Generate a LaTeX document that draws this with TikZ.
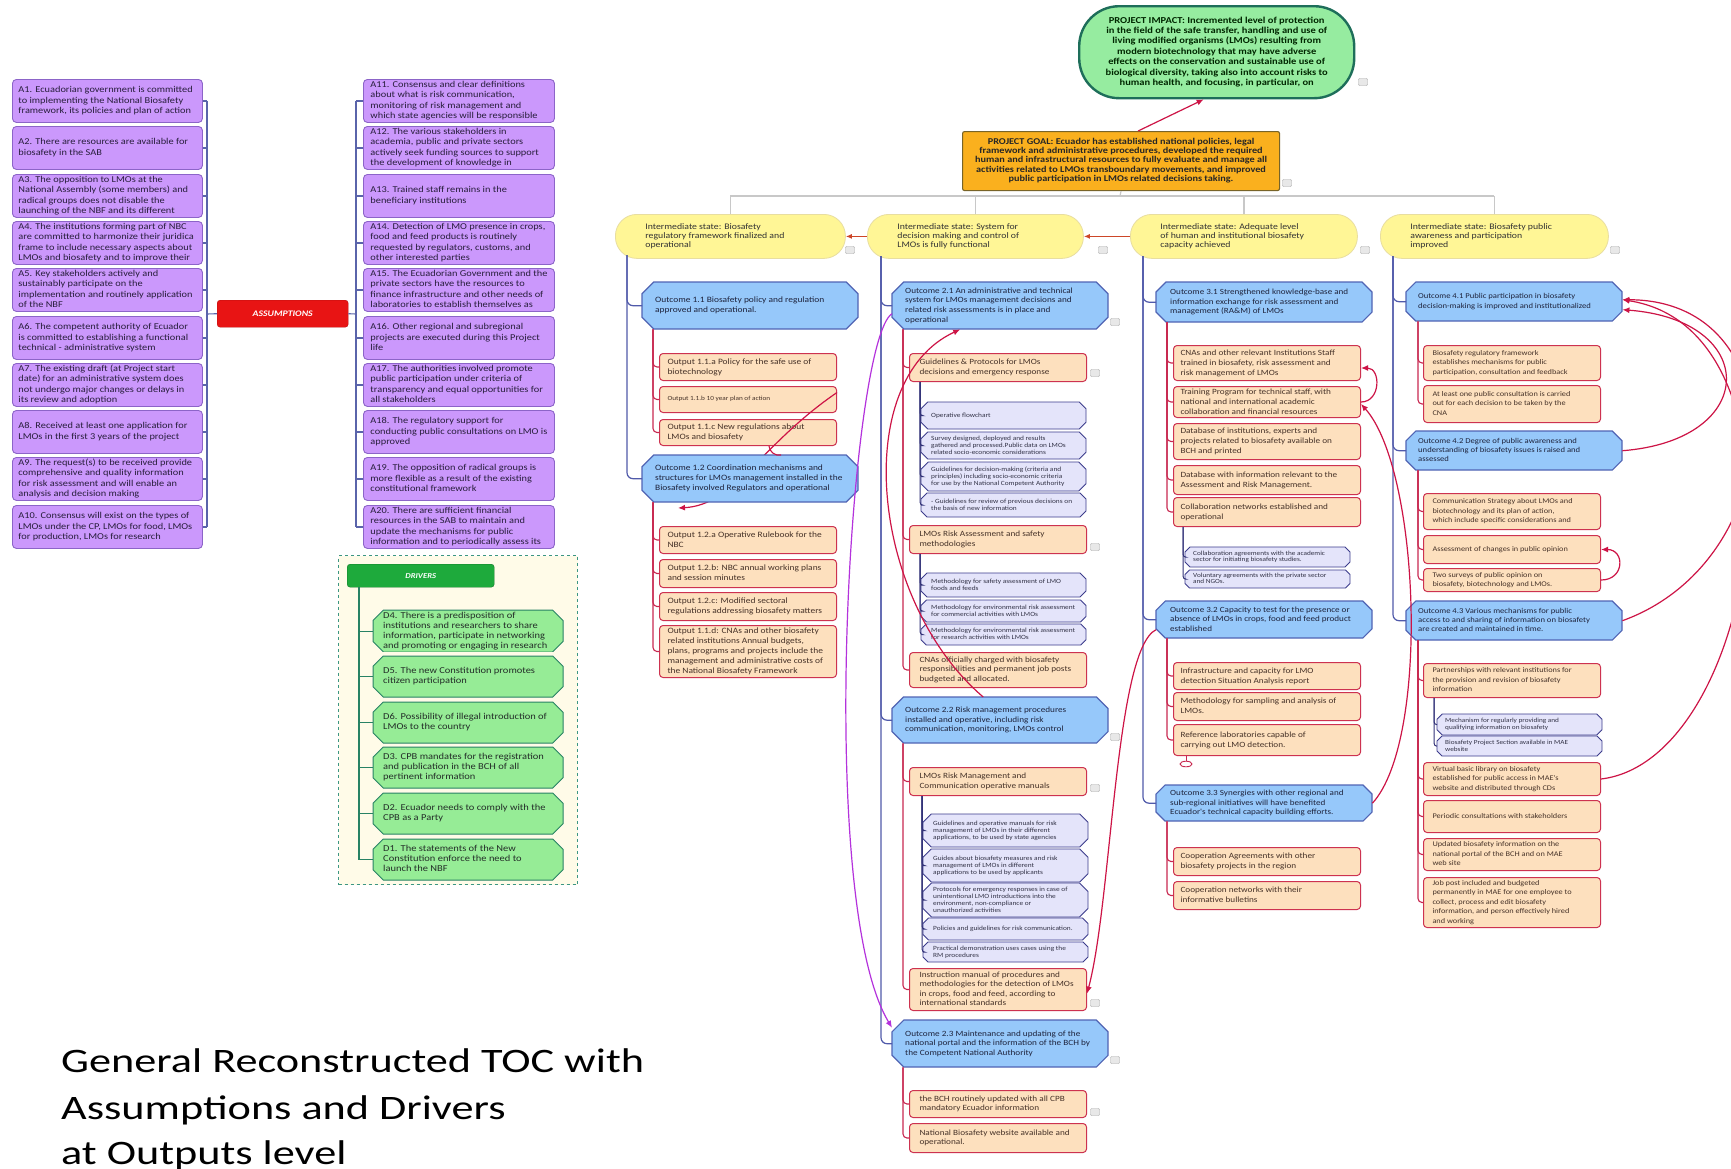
\documentclass[tikz,border=0pt]{standalone}
\usepackage{fontspec}
\setmainfont{Carlito}
\newfontfamily\df{Carlito}[FakeStretch=1.15]
\newfontfamily\ttl{Carlito}[FakeStretch=1.29]
\usetikzlibrary{arrows.meta}

\definecolor{afill}{RGB}{203,152,252}
\definecolor{aedge}{RGB}{140,100,200}
\definecolor{atext}{RGB}{40,30,60}
\definecolor{abusc}{RGB}{90,100,170}
\definecolor{asmred}{RGB}{232,20,20}
\definecolor{drvgreen}{RGB}{30,170,60}
\definecolor{dfill}{RGB}{150,236,150}
\definecolor{dedge}{RGB}{40,130,100}
\definecolor{dtext}{RGB}{35,45,40}
\definecolor{dframe}{RGB}{60,150,130}
\definecolor{dback}{RGB}{255,251,232}
\definecolor{impfill}{RGB}{150,236,160}
\definecolor{impedge}{RGB}{30,110,90}
\definecolor{goalfill}{RGB}{250,176,30}
\definecolor{goaledge}{RGB}{120,100,40}
\definecolor{stfill}{RGB}{255,246,150}
\definecolor{stedge}{RGB}{232,222,160}
\definecolor{ofill}{RGB}{150,200,250}
\definecolor{oedge}{RGB}{80,100,180}
\definecolor{otext}{RGB}{30,35,60}
\definecolor{pfill}{RGB}{253,224,190}
\definecolor{pedge}{RGB}{205,50,80}
\definecolor{ptext}{RGB}{70,50,40}
\definecolor{sfill}{RGB}{228,228,250}
\definecolor{sedge}{RGB}{60,60,140}
\definecolor{stext}{RGB}{50,50,70}
\definecolor{colc}{RGB}{80,90,170}
\definecolor{outc}{RGB}{200,40,80}
\definecolor{subc}{RGB}{50,50,120}
\definecolor{linkc}{RGB}{205,20,70}
\definecolor{linkp}{RGB}{180,50,220}
\definecolor{starr}{RGB}{205,70,40}
\definecolor{treegray}{RGB}{200,200,200}

% box with its top-left and bottom-right corners, a side padding and left-aligned lines
\newcommand\mkbox[8]{%
  \pgfmathsetmacro\mbw{#5-#3}%
  \pgfmathsetmacro\mbh{#6-#4}%
  \pgfmathsetmacro\mbt{#5-#3-#7}%
  \node[inner sep=0pt, #1, anchor=north west, minimum width=\mbw pt, minimum height=\mbh pt] (#2) at (#3,#4)
    {\makebox[\mbt pt][l]{\begin{tabular}{@{}l@{}}#8\end{tabular}}};}
% octagon outline drawn first, then the named text node on top
\newcommand\mkoct[9]{%
  \pgfmathsetmacro\mch{min(12,(#7-#5)/4)}%
  \draw[#1] ({#4+\mch},#5) -- ({#6-\mch},#5) -- (#6,{#5+\mch}) -- (#6,{#7-\mch}) -- ({#6-\mch},#7) -- ({#4+\mch},#7) -- (#4,{#7-\mch}) -- (#4,{#5+\mch}) -- cycle;
  \mkbox{#2}{#3}{#4}{#5}{#6}{#7}{#8}{#9}}

\tikzset{
  abox/.style={draw=aedge, fill=afill, line width=0.9pt, rounded corners=4pt, text=atext, font=\df\fontsize{9}{10.3}\selectfont},
  abus/.style={draw=abusc, line width=1.1pt},
  asmbox/.style={draw=asmred!80!black, fill=asmred, rounded corners=3pt, text=white, font=\df\bfseries\itshape\fontsize{8.5}{10}\selectfont, inner sep=0pt},
  drvframe/.style={draw=dframe, dashed, line width=1pt, fill=dback, inner sep=0pt},
  drvhead/.style={draw=drvgreen!70!black, fill=drvgreen, rounded corners=3pt, text=white, font=\df\bfseries\itshape\fontsize{7.5}{9}\selectfont, inner sep=0pt},
  dsh/.style={draw=dedge, fill=dfill, line width=1pt},
  dtx/.style={text=dtext, font=\df\fontsize{9.1}{10}\selectfont},
  dbusline/.style={draw=dedge, line width=1.2pt},
  impbox/.style={draw=impedge, fill=impfill, line width=2.4pt, rounded corners=40pt, text=black!85!green, font=\df\bfseries\fontsize{9.1}{10.4}\selectfont, inner sep=0pt},
  goalbox/.style={draw=goaledge, fill=goalfill, line width=1.1pt, rounded corners=2pt, text=black!85, font=\df\bfseries\fontsize{8.9}{9.3}\selectfont, inner sep=0pt},
  stbox/.style={draw=stedge, fill=stfill, line width=0.8pt, rounded corners=21.5pt, text=black!80, font=\df\fontsize{8.5}{9}\selectfont},
  osh/.style={draw=oedge, fill=ofill, line width=1.1pt},
  otxA/.style={text=otext, font=\df\fontsize{8.2}{10}\selectfont},
  otxB/.style={text=otext, font=\df\fontsize{8}{9.6}\selectfont},
  otxC/.style={text=otext, font=\df\fontsize{7.9}{9.5}\selectfont},
  otxD/.style={text=otext, font=\df\fontsize{7.5}{9.4}\selectfont},
  pbox/.style={draw=pedge, fill=pfill, line width=1pt, rounded corners=3.5pt, text=ptext},
  outA/.style={pbox, font=\df\fontsize{8.2}{10}\selectfont},
  outB/.style={pbox, font=\df\fontsize{8}{9.5}\selectfont},
  outC/.style={pbox, font=\df\fontsize{8}{10}\selectfont},
  outD/.style={pbox, font=\df\fontsize{7.2}{9.4}\selectfont},
  ssh/.style={draw=sedge, fill=sfill, line width=0.9pt},
  subB/.style={text=stext, font=\df\fontsize{6.4}{7}\selectfont},
  subC/.style={text=stext, font=\df\fontsize{6.3}{6.6}\selectfont},
  subD/.style={text=stext, font=\df\fontsize{6.3}{7.3}\selectfont},
  colline/.style={draw=colc, line width=1.2pt, rounded corners=6pt},
  outl/.style={draw=outc, line width=1.1pt, rounded corners=4pt},
  subl/.style={draw=subc, line width=1pt, rounded corners=3pt},
  gline/.style={draw=treegray, line width=1.2pt},
  sarrow/.style={draw=starr, line width=1.3pt, -{Latex[length=6pt,width=5pt]}},
  lnk/.style={draw=linkc, line width=1.2pt, -{Latex[length=7pt,width=6pt]}},
  lnkP/.style={draw=linkp, line width=1.2pt, -{Latex[length=7pt,width=6pt]}},
  noteic/.style={draw=gray!70, fill=gray!18, minimum width=9pt, minimum height=7pt, inner sep=0pt, rounded corners=1pt},
  ttlline/.style={anchor=base west, inner sep=0pt, font=\ttl\fontsize{34.3}{48}\selectfont},
}

\begin{document}
\begin{tikzpicture}[x=1pt,y=-1pt]
\useasboundingbox (0,0) rectangle (1731,1168);
\clip (0,0) rectangle (1731,1168);
\fill[white] (0,0) rectangle (1731,1168);

% ---------------- Assumptions ----------------
\mkbox{abox}{A1}{12}{79}{202}{122}{12}{A1. Ecuadorian government is committed\\to implementing the National Biosafety\\framework, its policies and plan of action}
\mkbox{abox}{A2}{12}{126}{202}{169}{12}{A2. There are resources are available for\\biosafety in the SAB}
\mkbox{abox}{A3}{12}{174}{202}{217}{12}{A3. The opposition to LMOs at the\\National Assembly (some members) and\\radical groups does not disable the\\launching of the NBF and its different}
\mkbox{abox}{A4}{12}{221}{202}{264}{12}{A4. The institutions forming part of NBC\\are committed to harmonize their juridica\\frame to include necessary aspects about\\LMOs and biosafety and to improve their}
\mkbox{abox}{A5}{12}{268}{202}{311}{12}{A5. Key stakeholders actively and\\sustainably participate on the\\implementation and routinely application\\of the NBF}
\mkbox{abox}{A6}{12}{316}{202}{359}{12}{A6. The competent authority of Ecuador\\is committed to establishing a functional\\technical - administrative system}
\mkbox{abox}{A7}{12}{363}{202}{406}{12}{A7. The existing draft (at Project start\\date) for an administrative system does\\not undergo major changes or delays in\\its review and adoption}
\mkbox{abox}{A8}{12}{410}{202}{453}{12}{A8. Received at least one application for\\LMOs in the first 3 years of the project}
\mkbox{abox}{A9}{12}{457}{202}{500}{12}{A9. The request(s) to be received provide\\comprehensive and quality information\\for risk assessment and will enable an\\analysis and decision making}
\mkbox{abox}{A10}{12}{505}{202}{548}{12}{A10. Consensus will exist on the types of\\LMOs under the CP, LMOs for food, LMOs\\for production, LMOs for research}

\mkbox{abox}{A11}{363}{79}{554}{122}{14}{A11. Consensus and clear definitions\\about what is risk communication,\\monitoring of risk management and\\which state agencies will be responsible}
\mkbox{abox}{A12}{363}{126}{554}{169}{14}{A12. The various stakeholders in\\academia, public and private sectors\\actively seek funding sources to support\\the development of knowledge in}
\mkbox{abox}{A13}{363}{174}{554}{217}{14}{A13. Trained staff remains in the\\beneficiary institutions}
\mkbox{abox}{A14}{363}{221}{554}{264}{14}{A14. Detection of LMO presence in crops,\\food and feed products is routinely\\requested by regulators, customs, and\\other interested parties}
\mkbox{abox}{A15}{363}{268}{554}{311}{14}{A15. The Ecuadorian Government and the\\private sectors have the resources to\\finance infrastructure and other needs of\\laboratories to establish themselves as}
\mkbox{abox}{A16}{363}{316}{554}{359}{14}{A16. Other regional and subregional\\projects are executed during this Project\\life}
\mkbox{abox}{A17}{363}{363}{554}{406}{14}{A17. The authorities involved promote\\public participation under criteria of\\transparency and equal opportunities for\\all stakeholders}
\mkbox{abox}{A18}{363}{410}{554}{453}{14}{A18. The regulatory support for\\conducting public consultations on LMO is\\approved}
\mkbox{abox}{A19}{363}{457}{554}{500}{14}{A19. The opposition of radical groups is\\more flexible as a result of the existing\\constitutional framework}
\mkbox{abox}{A20}{363}{505}{554}{548}{14}{A20. There are sufficient financial\\resources in the SAB to maintain and\\update the mechanisms for public\\information and to periodically assess its}

\node[asmbox, anchor=north west, minimum width=131pt, minimum height=27pt] (asm) at (217,300) {ASSUMPTIONS};

\coordinate (lbus) at (207,314);
\coordinate (rbus) at (356,314);
\foreach \i in {1,...,10} \draw[abus] (A\i.east) -- (lbus |- A\i.east);
\draw[abus] (lbus |- A1.east) -- (lbus |- A10.east);
\draw[abus] (lbus) -- (asm.west);
\draw[abus] (asm.east) -- (rbus);
\foreach \i in {11,...,20} \draw[abus] (rbus |- A\i.west) -- (A\i.west);
\draw[abus] (rbus |- A11.west) -- (rbus |- A20.west);

% ---------------- Drivers ----------------
\node[drvframe, anchor=north west, minimum width=239pt, minimum height=329pt] (drvbox) at (338,555) {};
\node[drvhead, anchor=north west, minimum width=147pt, minimum height=23pt] (drv) at (347,564) {DRIVERS};
\begin{scope}
\clip (370,607) rectangle (566,651);
\mkoct{dsh}{dtx}{D4}{373}{610}{563}{652}{20}{D4. There is a predisposition of\\institutions and researchers to share\\information, participate in networking\\and promoting or engaging in research}
\end{scope}
\mkoct{dsh}{dtx}{D5}{373}{656}{563}{697}{20}{D5. The new Constitution promotes\\citizen participation}
\mkoct{dsh}{dtx}{D6}{373}{702}{563}{743}{20}{D6. Possibility of illegal introduction of\\LMOs to the country}
\mkoct{dsh}{dtx}{D3}{373}{747}{563}{788}{20}{D3. CPB mandates for the registration\\and publication in the BCH of all\\pertinent information}
\mkoct{dsh}{dtx}{D2}{373}{793}{563}{834}{20}{D2. Ecuador needs to comply with the\\CPB as a Party}
\mkoct{dsh}{dtx}{D1}{373}{839}{563}{880}{20}{D1. The statements of the New\\Constitution enforce the need to\\launch the NBF}
\coordinate (dbus) at (359,600);
\draw[dbusline] (dbus |- drv.south) -- (dbus |- D1.west);
\foreach \d in {D1,D2,D3,D4,D5,D6} \draw[dbusline] (dbus |- \d.west) -- (\d.west);

% ---------------- Impact, goal and intermediate states ----------------
\node[impbox, anchor=north west, minimum width=275pt, minimum height=92pt] (imp) at (1078,5)
 {\begin{tabular}{@{}c@{}}PROJECT IMPACT: Incremented level of protection\\in the field of the safe transfer, handling and use of\\living modified organisms (LMOs) resulting from\\modern biotechnology that may have adverse\\effects on the conservation and sustainable use of\\biological diversity, taking also into account risks to\\human health, and focusing, in particular, on\end{tabular}};
\node[goalbox, anchor=north west, minimum width=317pt, minimum height=59pt] (goal) at (962,131)
 {\begin{tabular}{@{}c@{}}PROJECT GOAL: Ecuador has established national policies, legal\\framework and administrative procedures, developed the required\\human and infrastructural resources to fully evaluate and manage all\\activities related to LMOs transboundary movements, and improved\\public participation in LMOs related decisions taking.\end{tabular}};
\draw[lnk] ([xshift=17pt]goal.north) -- ([xshift=-13pt]imp.south);

\mkbox{stbox}{S1}{615}{214}{845}{258}{60}{Intermediate state: Biosafety\\regulatory framework finalized and\\operational}
\mkbox{stbox}{S2}{867}{214}{1083}{258}{60}{Intermediate state: System for\\decision making and control of\\LMOs  is fully functional}
\mkbox{stbox}{S3}{1130}{214}{1357}{258}{60}{Intermediate state: Adequate level\\of human and institutional biosafety\\capacity achieved}
\mkbox{stbox}{S4}{1380}{214}{1608}{258}{60}{Intermediate state: Biosafety public\\awareness and participation\\improved}

\coordinate (gbus) at (1120,196);
\draw[gline] (goal.south) -- (gbus);
\draw[gline] (S1.north |- gbus) -- (S4.north |- gbus);
\foreach \s in {S1,S2,S3,S4} \draw[gline] (\s.north |- gbus) -- (\s.north);
\draw[sarrow] (S2.west) -- (S1.east);
\draw[sarrow] (S3.west) -- (S2.east);

% ---------------- Column 1 ----------------
\coordinate (c1) at (627,255);
\mkoct{osh}{otxA}{O11}{642}{282}{858}{329}{26}{Outcome 1.1 Biosafety policy and regulation\\approved and operational.}
\mkbox{outA}{P11a}{659}{353}{836}{380}{16}{Output 1.1.a Policy for the safe use of\\biotechnology}
\mkbox{outA, font=\df\fontsize{6.3}{7}\selectfont}{P11b}{659}{386}{836}{412}{16}{Output 1.1.b 10 year plan of action}
\mkbox{outA}{P11c}{659}{419}{836}{445}{16}{Output 1.1.c New regulations about\\LMOs and biosafety}
\coordinate (tip12) at (678,508);
\draw[lnk] ([yshift=7pt]P11b.east) .. controls (760,445) and (735,505) .. (tip12);
\mkoct{osh}{otxA}{O12}{642}{455}{858}{502}{26}{Outcome 1.2 Coordination mechanisms and\\structures for LMOs management installed in the\\Biosafety involved Regulators and operational}
\draw[draw=linkc, line width=1.1pt] ([xshift=21pt]P11c.south) to[bend right=50] ([xshift=31pt]O12.north);
\mkbox{outA}{P12a}{659}{526}{836}{553}{16}{Output 1.2.a Operative Rulebook for the\\NBC}
\mkbox{outA}{P12b}{659}{559}{836}{587}{16}{Output 1.2.b: NBC annual working plans\\and session minutes}
\mkbox{outA}{P12c}{659}{592}{836}{620}{16}{Output 1.2.c: Modified sectoral\\regulations addressing biosafety matters}
\mkbox{outA}{P11d}{659}{625}{836}{677}{16}{Output 1.1.d: CNAs and other biosafety\\related institutions Annual budgets,\\plans, programs and projects include the\\management and administrative costs of\\the National Biosafety Framework}

\draw[colline] (c1) |- (O11.west);
\draw[colline] (c1) |- (O12.west);
\foreach \p in {P11a,P11b,P11c} \draw[outl] ([xshift=11pt]O11.south west) |- (\p.west);
\foreach \p in {P12a,P12b,P12c,P11d} \draw[outl] ([xshift=11pt]O12.south west) |- (\p.west);

% ---------------- Column 2 ----------------
\coordinate (c2) at (881,256);
\mkoct{osh}{otxB}{O21}{892}{282}{1108}{329}{26}{Outcome 2.1 An administrative and technical\\system for LMOs management decisions and\\related risk assessments is in place and\\operational}
\mkbox{outB}{Q1}{909}{353}{1086}{381}{20}{Guidelines \& Protocols for LMOs\\decisions and emergency response}
\mkoct{ssh}{subB}{B1}{921}{402}{1086}{429}{20}{Operative flowchart}
\mkoct{ssh}{subB}{B2}{921}{432}{1086}{459}{20}{Survey designed, deployed and results\\gathered and processed.Public data on LMOs\\related socio-economic considerations}
\mkoct{ssh}{subB}{B3}{921}{462}{1086}{491}{20}{Guidelines for decision-making (criteria and\\principles) including socio-economic criteria\\for use by the National Competent Authority}
\mkoct{ssh}{subB}{B4}{921}{493}{1086}{517}{20}{- Guidelines for review of previous decisions on\\the basis of new information}
\mkbox{outB}{Q2}{909}{525}{1086}{553}{20}{LMOs Risk Assessment and safety\\methodologies}
\mkoct{ssh}{subB}{B5}{921}{573}{1086}{597}{20}{Methodology for safety assessment of LMO\\foods and feeds}
\mkoct{ssh}{subB}{B6}{921}{600}{1086}{622}{20}{Methodology for environmental risk assessment\\for commercial activities with LMOs}
\mkoct{ssh}{subB}{B7}{921}{624}{1086}{645}{20}{Methodology for environmental risk assessment\\for research activities with LMOs}
\mkbox{outB}{Q3}{909}{652}{1086}{687}{20}{CNAs officially charged with biosafety\\responsibilities and permanent job posts\\budgeted and allocated.}
\mkoct{osh}{otxB}{O22}{892}{697}{1108}{743}{26}{Outcome 2.2 Risk management procedures\\installed and operative, including risk\\communication, monitoring, LMOs control}
\mkbox{outB}{Q4}{909}{767}{1086}{795}{20}{LMOs Risk Management and\\Communication operative manuals}
\mkoct{ssh}{subB}{B8}{923}{814}{1088}{847}{20}{Guidelines and operative manuals for risk\\management of LMOs in their different\\applications, to be used by state agencies}
\mkoct{ssh}{subB}{B9}{923}{849}{1088}{882}{20}{Guides about biosafety measures and risk\\management of LMOs in different\\applications to be used by applicants}
\mkoct{ssh}{subB}{B10}{923}{883}{1088}{917}{20}{Protocols for emergency responses in case of\\unintentional LMO introductions into the\\environment, non-compliance or\\unauthorized activities}
\mkoct{ssh}{subB}{B11}{923}{918}{1088}{940}{20}{Policies and guidelines for risk communication.}
\mkoct{ssh}{subB}{B12}{923}{942}{1088}{962}{20}{Practical demonstration uses cases using the\\RM procedures}
\mkbox{outB}{Q5}{909}{968}{1086}{1010}{20}{Instruction manual of procedures and\\methodologies for the detection of LMOs\\in crops, food and feed, according to\\international standards}
\mkoct{osh}{otxB}{O23}{892}{1020}{1108}{1067}{26}{Outcome 2.3 Maintenance and updating of the\\national portal and the information of the BCH by\\the Competent National Authority}
\mkbox{outB}{Q6}{909}{1090}{1086}{1117}{20}{the BCH routinely updated with all CPB\\mandatory Ecuador information}
\mkbox{outB}{Q7}{909}{1123}{1086}{1152}{20}{National Biosafety website available and\\operational.}

\draw[colline] (c2) |- (O21.west);
\draw[colline] (c2) |- (O22.west);
\draw[colline] (c2) |- (O23.west);
\foreach \p in {Q1,Q2,Q3} \draw[outl] ([xshift=11pt]O21.south west) |- (\p.west);
\foreach \p in {Q4,Q5} \draw[outl] ([xshift=11pt]O22.south west) |- (\p.west);
\foreach \p in {Q6,Q7} \draw[outl] ([xshift=11pt]O23.south west) |- (\p.west);
\foreach \p in {B1,B2,B3,B4} \draw[subl] ([xshift=11pt]Q1.south west) |- (\p.west);
\foreach \p in {B5,B6,B7} \draw[subl] ([xshift=11pt]Q2.south west) |- (\p.west);
\foreach \p in {B8,B9,B10,B11,B12} \draw[subl] ([xshift=13pt]Q4.south west) |- (\p.west);

% ---------------- Column 3 ----------------
\coordinate (c3) at (1143,256);
\mkoct{osh}{otxC}{O31}{1156}{282}{1372}{322}{28}{Outcome 3.1 Strengthened knowledge-base  and\\information exchange for risk assessment and\\management (RA\&M) of LMOs}
\mkbox{outC}{R1}{1173}{345}{1360}{380}{14}{CNAs and other relevant Institutions Staff\\trained in biosafety, risk assessment and\\risk management of LMOs}
\mkbox{outC}{R2}{1173}{386}{1360}{417}{14}{Training Program for technical staff, with\\national and international academic\\collaboration and financial resources}
\mkbox{outC}{R3}{1173}{423}{1360}{459}{14}{Database of institutions, experts and\\projects related to biosafety available on\\BCH and printed}
\mkbox{outC}{R4}{1173}{465}{1360}{494}{14}{Database with information relevant to the\\Assessment and Risk Management.}
\mkbox{outC}{R5}{1173}{497}{1360}{526}{14}{Collaboration networks established and\\operational}
\mkoct{ssh}{subC}{C1}{1185}{547}{1350}{567}{16}{Collaboration agreements with the academic\\sector for initiating biosafety studies.}
\mkoct{ssh}{subC}{C2}{1185}{570}{1350}{588}{16}{Voluntary agreements with the private sector\\and NGOs.}
\mkoct{osh}{otxC}{O32}{1156}{601}{1372}{638}{28}{Outcome 3.2 Capacity to test for the presence or\\absence of LMOs in crops, food and feed product\\established}
\mkbox{outC}{R6}{1173}{662}{1360}{689}{14}{Infrastructure and capacity for LMO\\detection Situation  Analysis report}
\mkbox{outC}{R7}{1173}{692}{1360}{720}{14}{Methodology for sampling and analysis of\\LMOs.}
\mkbox{outC}{R8}{1173}{724}{1360}{755}{14}{Reference laboratories capable of\\carrying out LMO detection.}
\draw[draw=outc, line width=1pt] ([xshift=13pt]R8.south west) -- ++(0,5);
\draw[draw=outc, line width=0.9pt] ([xshift=13pt,yshift=-8pt]R8.south west) ellipse (6pt and 2.8pt);
\mkoct{osh}{otxC}{O33}{1156}{785}{1372}{821}{28}{Outcome 3.3 Synergies with other regional and\\sub-regional initiatives will have benefited\\Ecuador's technical capacity building efforts.}
\mkbox{outC}{R9}{1173}{847}{1360}{875}{14}{Cooperation Agreements with other\\biosafety projects in the region}
\mkbox{outC}{R10}{1173}{881}{1360}{909}{14}{Cooperation networks with their\\informative bulletins}

\draw[colline] (c3) |- (O31.west);
\draw[colline] (c3) |- (O32.west);
\draw[colline] (c3) |- (O33.west);
\foreach \p in {R1,R2,R3,R4,R5} \draw[outl] ([xshift=11pt]O31.south west) |- (\p.west);
\foreach \p in {R6,R7,R8} \draw[outl] ([xshift=11pt]O32.south west) |- (\p.west);
\foreach \p in {R9,R10} \draw[outl] ([xshift=11pt]O33.south west) |- (\p.west);
\foreach \p in {C1,C2} \draw[subl] ([xshift=10pt]R5.south west) |- (\p.west);

% ---------------- Column 4 ----------------
\coordinate (c4) at (1393,256);
\mkoct{osh}{otxD}{O41}{1406}{282}{1622}{321}{24}{Outcome 4.1 Public participation in biosafety\\decision-making is improved and institutionalized}
\mkbox{outD}{T1}{1423}{345}{1600}{380}{18}{Biosafety regulatory framework\\establishes mechanisms for public\\participation, consultation and feedback}
\mkbox{outD}{T2}{1423}{385}{1600}{422}{18}{At least one public consultation is carried\\out for each decision to be taken by the\\CNA}
\mkoct{osh}{otxD}{O42}{1406}{431}{1622}{470}{24}{Outcome 4.2 Degree of public awareness and\\understanding of biosafety issues is raised and\\assessed}
\mkbox{outD}{T3}{1423}{493}{1600}{529}{18}{Communication Strategy about LMOs and\\biotechnology and its plan of action,\\which include specific considerations and}
\mkbox{outD}{T4}{1423}{535}{1600}{563}{18}{Assessment of changes in public opinion}
\mkbox{outD}{T5}{1423}{568}{1600}{591}{18}{Two surveys of public opinion on\\biosafety, biotechnology and LMOs.}
\mkoct{osh}{otxD}{O43}{1406}{601}{1622}{640}{24}{Outcome 4.3 Various mechanisms for public\\access to and sharing of information on biosafety\\are created and maintained in time.}
\mkbox{outD}{T6}{1423}{663}{1600}{697}{18}{Partnerships with relevant institutions for\\the provision and revision of biosafety\\information}
\mkoct{ssh}{subD}{E1}{1437}{714}{1602}{735}{16}{Mechanism for regularly providing and\\qualifying information on biosafety}
\mkoct{ssh}{subD}{E2}{1437}{736}{1602}{756}{16}{Biosafety Project Section available in MAE\\website}
\mkbox{outD}{T7}{1423}{762}{1600}{795}{18}{Virtual basic library on biosafety\\established for public access  in MAE's\\website and distributed through CDs}
\mkbox{outD}{T8}{1423}{800}{1600}{832}{18}{Periodic consultations with stakeholders}
\mkbox{outD}{T9}{1423}{838}{1600}{870}{18}{Updated biosafety information on the\\national portal of the BCH and on MAE\\web site}
\mkbox{outD}{T10}{1423}{877}{1600}{927}{18}{Job post included and budgeted\\permanently in MAE for one employee to\\collect, process and edit biosafety\\information, and person effectively hired\\and working}

\draw[colline] (c4) |- (O41.west);
\draw[colline] (c4) |- (O42.west);
\draw[colline] (c4) |- (O43.west);
\foreach \p in {T1,T2} \draw[outl] ([xshift=12pt]O41.south west) |- (\p.west);
\foreach \p in {T3,T4,T5} \draw[outl] ([xshift=12pt]O42.south west) |- (\p.west);
\foreach \p in {T6,T7,T8,T9,T10} \draw[outl] ([xshift=12pt]O43.south west) |- (\p.west);
\foreach \p in {E1,E2} \draw[subl] ([xshift=11pt]T6.south west) |- (\p.west);

% ---------------- Cross links ----------------
\draw[lnkP] ([yshift=-8pt]O21.west) .. controls (850,340) and (815,900) .. ([yshift=16pt]O23.west);
\draw[lnk] ([xshift=-17pt]O22.north) .. controls (870,600) and (850,380) .. ([xshift=-40pt]O21.south);
\draw[lnk] ([yshift=-10pt]O32.west) .. controls (1115,650) and (1112,900) .. ([yshift=-4pt]Q5.east);
\draw[lnk] (R2.east) .. controls +(20,0) and +(20,0) .. ([yshift=-5pt]R1.east);
\draw[lnk] (O33.east) .. controls (1430,740) and (1420,470) .. ([yshift=-2pt]R2.east);
\draw[lnk] (T5.east) .. controls +(24,0) and +(24,0) .. (T4.east);
\draw[lnk] (O42.east) .. controls (1760,440) and (1760,320) .. ([yshift=-8pt]O41.east);
\draw[lnk] (O43.east) .. controls (1790,560) and (1800,300) .. ([yshift=2pt]O41.east);
\draw[lnk] (T7.east) .. controls (1760,760) and (1820,330) .. ([yshift=2pt]O41.east);

% ---------------- Note icons ----------------
\node[noteic] (nt1) at (1363,82) {};
\node[noteic] (nt2) at (1287,183) {};
\node[noteic] (nt3) at (850,250) {};
\node[noteic] (nt4) at (1103,250) {};
\node[noteic] (nt5) at (1365,250) {};
\node[noteic] (nt6) at (1615,250) {};
\node[noteic] (nt7) at (1115,322) {};
\node[noteic] (nt8) at (1095,373) {};
\node[noteic] (nt9) at (1095,547) {};
\node[noteic] (nt10) at (1115,737) {};
\node[noteic] (nt11) at (1095,788) {};
\node[noteic] (nt12) at (1095,1003) {};
\node[noteic] (nt13) at (1115,1060) {};
\node[noteic] (nt14) at (1095,1112) {};

% ---------------- Title ----------------
\node[ttlline] (tt1) at (61,1072) {General Reconstructed TOC with};
\node[ttlline] (tt2) at (61,1119) {Assumptions and Drivers};
\node[ttlline] (tt3) at (61,1164) {at Outputs level};
\end{tikzpicture}
\end{document}
